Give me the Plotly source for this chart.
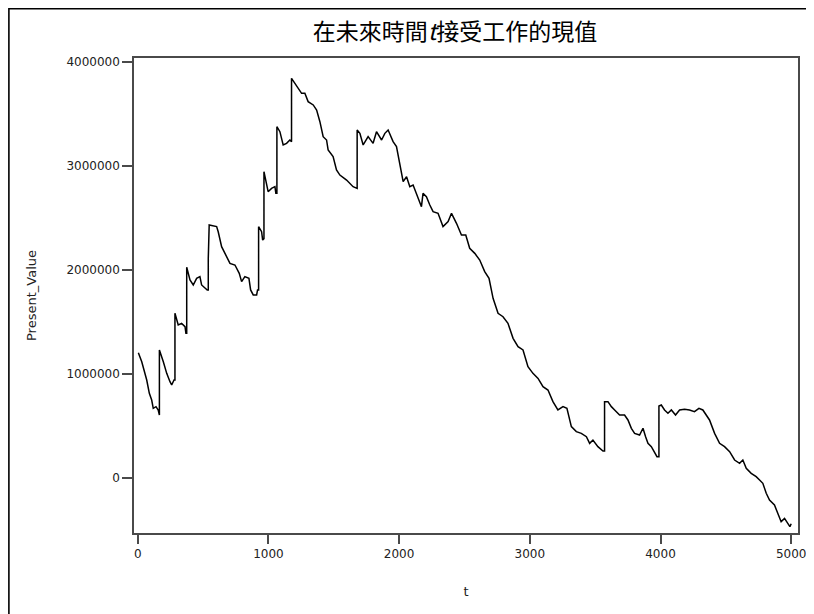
import plotly.graph_objects as go

# t values (time) and present values (in units of 1,000,000)
t_vals = [5, 31, 69, 89, 107, 119, 140, 157, 166, 166, 196, 222, 247, 260, 278, 285, 285,
          310, 336, 362, 369, 375, 375, 400, 425, 451, 476, 489, 532, 540, 540, 547,
          604, 616, 642, 680, 706, 744, 777, 795, 820, 851, 864, 884, 910, 917, 925, 925,
          948, 956, 966, 966, 986, 998, 1024, 1050, 1057, 1065, 1065, 1088, 1113, 1139,
          1164, 1172, 1177, 1177, 1203, 1228, 1254, 1279, 1304, 1343, 1369, 1394, 1419,
          1445, 1457, 1495, 1521, 1547, 1598, 1648, 1669, 1679, 1679, 1700, 1725, 1763,
          1801, 1827, 1866, 1891, 1916, 1954, 1980, 2005, 2031, 2057, 2082, 2107, 2133,
          2171, 2183, 2209, 2235, 2260, 2298, 2336, 2375, 2401, 2439, 2477, 2510, 2540,
          2579, 2617, 2655, 2688, 2719, 2757, 2795, 2833, 2872, 2910, 2948, 2986, 3024,
          3063, 3101, 3139, 3177, 3215, 3254, 3284, 3318, 3356, 3394, 3433, 3458, 3483,
          3521, 3560, 3572, 3572, 3598, 3624, 3649, 3687, 3725, 3751, 3777, 3802, 3840,
          3866, 3886, 3904, 3930, 3955, 3973, 3988, 3988, 4006, 4031, 4057, 4083, 4115,
          4146, 4184, 4222, 4260, 4294, 4324, 4350, 4375, 4414, 4452, 4490, 4529, 4567,
          4605, 4630, 4656, 4694, 4732, 4758, 4783, 4809, 4834, 4872, 4898, 4923, 4949,
          4974, 4990, 5000]
pv_millions = [1.205, 1.118, 0.942, 0.814, 0.750, 0.670, 0.686, 0.654, 0.606, 1.231,
               1.118, 1.006, 0.926, 0.894, 0.942, 0.942, 1.584,
               1.471, 1.487, 1.455, 1.391, 1.391, 2.026, 1.904, 1.856, 1.920, 1.936, 1.856,
               1.808, 1.808, 2.112, 2.433,
               2.417, 2.368, 2.224, 2.128, 2.064, 2.048, 1.968, 1.888, 1.936, 1.920, 1.808,
               1.760, 1.760, 1.808, 1.808, 2.417,
               2.368, 2.288, 2.300, 2.945, 2.801, 2.753, 2.785, 2.801, 2.737, 2.737, 3.378,
               3.330, 3.202, 3.218,
               3.250, 3.234, 3.234, 3.843, 3.795, 3.747, 3.699, 3.699, 3.619, 3.587, 3.538,
               3.426, 3.282,
               3.250, 3.154, 3.090, 2.962, 2.913, 2.865, 2.801, 2.785, 2.785, 3.346, 3.314,
               3.202, 3.282,
               3.218, 3.330, 3.250, 3.314, 3.346, 3.234, 3.186, 3.026, 2.849, 2.897, 2.801,
               2.817, 2.737,
               2.609, 2.737, 2.705, 2.625, 2.561, 2.545, 2.417, 2.465, 2.545, 2.449, 2.337,
               2.337, 2.209,
               2.160, 2.096, 1.984, 1.920, 1.728, 1.584, 1.551, 1.487, 1.343, 1.263, 1.231,
               1.071, 1.006,
               0.958, 0.878, 0.846, 0.734, 0.654, 0.686, 0.670, 0.494, 0.446, 0.429, 0.397,
               0.333, 0.365,
               0.301, 0.260, 0.260, 0.734, 0.734, 0.686, 0.654, 0.606, 0.606, 0.558, 0.478,
               0.429, 0.413,
               0.478, 0.397, 0.333, 0.301, 0.237, 0.205, 0.205, 0.692, 0.702, 0.654, 0.622,
               0.654, 0.606,
               0.654, 0.660, 0.654, 0.638, 0.670, 0.654, 0.606, 0.558, 0.429, 0.333, 0.301,
               0.253, 0.173,
               0.141, 0.173, 0.093, 0.045, 0.013, -0.019, -0.051, -0.147, -0.212, -0.260,
               -0.340, -0.420, -0.388,
               -0.436, -0.468, -0.440]
present_value = [v * 1_000_000 for v in pv_millions]

x_ticks = [0, 1000, 2000, 3000, 4000, 5000]
y_ticks = [0, 1000000, 2000000, 3000000, 4000000]

title_text = "在未來時間<i>t</i>接受工作的現值"
x_title = "t"
y_title = "Present_Value"

# page body has an 8px margin, so the figure is laid out 8px in from the window edge
W, H = 806, 606
ML, MR, MT, MB = 126, 15.5, 50, 81
PW, PH = W - ML - MR, H - MT - MB

fig = go.Figure()
fig.add_trace(go.Scatter(x=t_vals, y=present_value, mode="lines",
                         line=dict(color="black", width=1.5), showlegend=False))

axis_color = "#4a4a4a"
tick_font = dict(family="DejaVu Sans", size=12, color="#222")

fig.update_layout(
    width=W, height=H,
    margin=dict(l=ML, r=MR, t=MT, b=MB, autoexpand=False),
    paper_bgcolor="white", plot_bgcolor="white",
    title=dict(text=title_text, x=447 / W, xanchor="center", y=1 - 24 / H, yanchor="middle",
               font=dict(family="Noto Sans CJK TC", size=23, color="black")),
    xaxis=dict(range=[-28.3, 5052], tickvals=x_ticks, ticktext=[str(v) for v in x_ticks],
               showgrid=False, zeroline=False, showline=True, linecolor=axis_color, linewidth=1.5,
               mirror=True, ticks="outside", ticklen=9, tickwidth=1.5, tickcolor=axis_color,
               tickfont=tick_font, automargin=False,
               title=dict(text=x_title, standoff=27, font=dict(family="DejaVu Sans", size=13, color="#222"))),
    yaxis=dict(range=[-529000, 4038500], tickvals=y_ticks, ticktext=[str(v) for v in y_ticks],
               showgrid=False, zeroline=False, showline=True, linecolor=axis_color, linewidth=1.5,
               mirror=True, ticks="outside", ticklen=10, tickwidth=1.5, tickcolor=axis_color,
               tickfont=tick_font, automargin=False,
               title=dict(text=y_title, standoff=27, font=dict(family="DejaVu Sans", size=13, color="#222"))),
    shapes=[dict(type="rect", xref="paper", yref="paper",
                 x0=(0.8 - ML) / PW, x1=1.5, y0=-1.0, y1=(MT + PH - 0.8) / PH,
                 line=dict(color="black", width=1.6), fillcolor="rgba(0,0,0,0)", layer="below")],
)

fig.write_html("out.html")
